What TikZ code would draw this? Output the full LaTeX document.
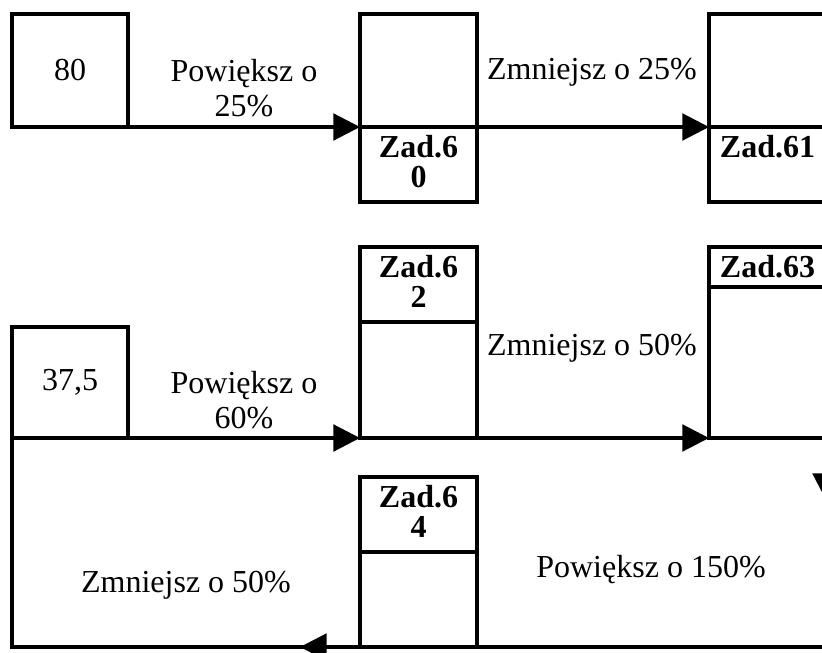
\documentclass[tikz,border=0pt]{standalone}
\usepackage{fontspec}
\setmainfont{Liberation Serif}
\usetikzlibrary{arrows.meta,positioning}

\begin{document}
\begin{tikzpicture}[
  x=0.75pt, y=-0.75pt,
  cell/.style={rectangle, draw, line width=2.4pt, outer sep=0pt, inner sep=0pt, anchor=north west, minimum width=87.75pt, font=\fontsize{24}{26}\selectfont},
  lbl/.style={align=center, font=\fontsize{24}{26}\selectfont},
  zlbl/.style={align=center, anchor=north, inner sep=6pt, font=\fontsize{24}{22.5}\selectfont\bfseries},
  arr/.style={-{Triangle[length=20pt, width=20pt]}, line width=2.4pt}
]
\useasboundingbox (0,0) rectangle (822,653);
\clip (0,0) rectangle (822,653);

% first row
\node[cell, minimum width=87pt, minimum height=84.75pt] (box80) at (12,14) {80};
\node[cell, minimum height=84.75pt] (z60a) at (360,14) {};
\node[cell, minimum height=56.25pt] (z60b) at (z60a.south west) {};
\node[zlbl] (t60) at (z60b.north) {Zad.6\\0};
\node[cell, minimum height=84.75pt] (z61a) at (709,14) {};
\node[cell, minimum height=56.25pt] (z61b) at (z61a.south west) {};
\node[zlbl] (t61) at (z61b.north) {Zad.61};

% second row
\node[cell, minimum width=87pt, minimum height=83.25pt] (box37) at (12,327) {37,5};
\node[cell, minimum height=56.25pt] (z62a) at (360,247) {};
\node[cell, minimum height=87pt] (z62b) at (z62a.south west) {};
\node[zlbl] (t62) at (z62a.north) {Zad.6\\2};
\node[cell, minimum height=30pt] (z63a) at (709,247) {};
\node[cell, minimum height=113.25pt] (z63b) at (z63a.south west) {};
\node[zlbl] (t63) at (z63a.north) {Zad.63};

% third row
\node[cell, minimum height=56.25pt] (z64a) at (360,477) {};
\node[cell, minimum height=71.25pt] (z64b) at (z64a.south west) {};
\node[zlbl] (t64) at (z64a.north) {Zad.6\\4};

\coordinate (dn) at (826,500);
\coordinate (br) at (z63b.south east |- z64b.south);
\coordinate (lt) at (300,647);
\coordinate (bl) at (box37.south west |- br);

\draw[arr] (box80.south west) -- (z60a.south west);
\draw[arr] (z60a.south east) -- (z61a.south west);
\draw[arr] (box37.south west) -- (z62b.south west);
\draw[arr] (z62b.south east) -- (z63b.south west);
\draw[arr] (z63b.south east) -- (dn);
\draw[line width=2.4pt] (dn) -- (br) -- (bl) -- (box37.south west);
\draw[arr] (br) -- (lt);

% operation labels
\node[lbl] (p25) at (244,88) {Powiększ o\\25\%};
\node[lbl] (m25) at (592,72) {Zmniejsz o 25\%};
\node[lbl] (p60) at (244,400) {Powiększ o\\60\%};
\node[lbl] (m50a) at (592,348) {Zmniejsz o 50\%};
\node[lbl] (m50b) at (186,585) {Zmniejsz o 50\%};
\node[lbl] (p150) at (651,570) {Powiększ o 150\%};
\end{tikzpicture}
\end{document}
